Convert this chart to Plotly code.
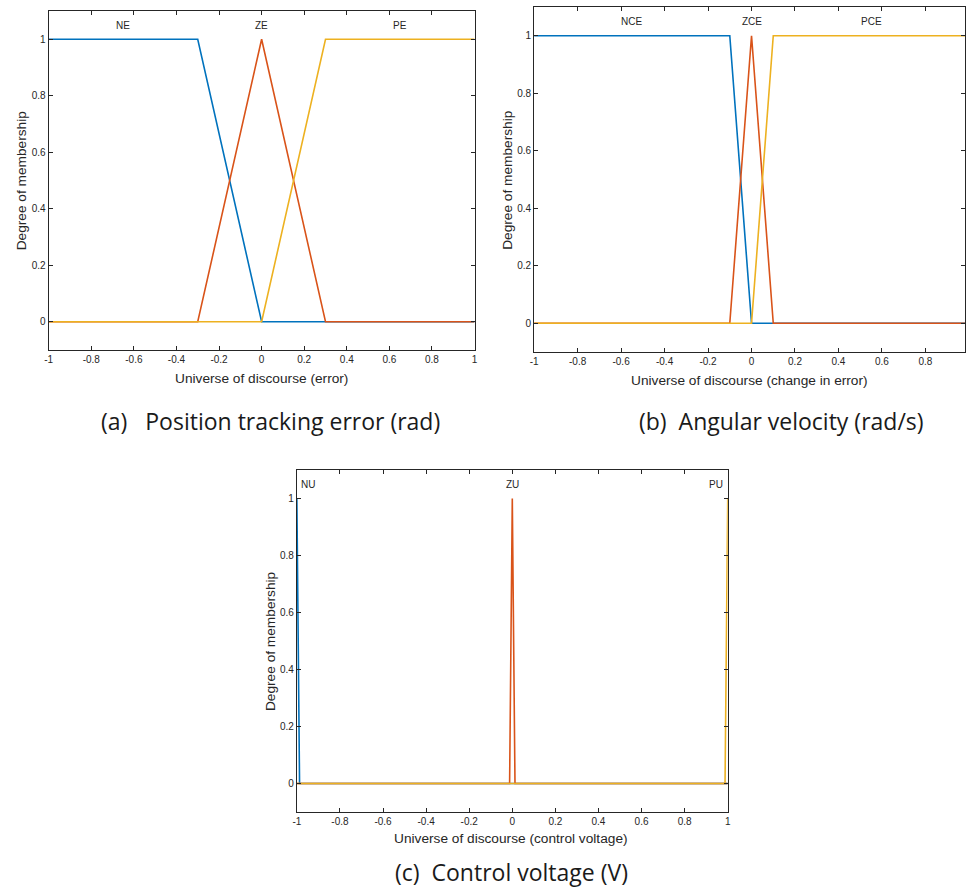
import plotly.graph_objects as go

W, H = 968, 895

# ---- data ----
# (a) position tracking error
a_NE_x = [-1, -0.3, 0, 1];        a_NE_y = [1, 1, 0, 0]
a_ZE_x = [-1, -0.3, 0, 0.3, 1];   a_ZE_y = [0, 0, 1, 0, 0]
a_PE_x = [-1, 0, 0.3, 1];         a_PE_y = [0, 0, 1, 1]
a_labels = ["NE", "ZE", "PE"];    a_label_x = [-0.65, 0, 0.65]

# (b) angular velocity
b_NCE_x = [-1, -0.1, 0, 1];        b_NCE_y = [1, 1, 0, 0]
b_ZCE_x = [-1, -0.1, 0, 0.1, 1];   b_ZCE_y = [0, 0, 1, 0, 0]
b_PCE_x = [-1, 0, 0.1, 1];         b_PCE_y = [0, 0, 1, 1]
b_labels = ["NCE", "ZCE", "PCE"];  b_label_x = [-0.55, 0, 0.55]

# (c) control voltage
c_NU_x = [-1, -0.9875, 1];               c_NU_y = [1, 0, 0]
c_ZU_x = [-1, -0.0125, 0, 0.0125, 1];    c_ZU_y = [0, 0, 1, 0, 0]
c_PU_x = [-1, 0.9875, 1];                c_PU_y = [0, 0, 1]
c_labels = ["NU", "ZU", "PU"];           c_label_x = [-0.95, 0, 0.945]

x_titles = ["Universe of discourse (error)",
            "Universe of discourse (change in error)",
            "Universe of discourse (control voltage)"]
captions = ["(a)   Position tracking error (rad)",
            "(b)  Angular velocity (rad/s)",
            "(c)  Control voltage (V)"]

tick_vals_x = [-1, -0.8, -0.6, -0.4, -0.2, 0, 0.2, 0.4, 0.6, 0.8, 1]
tick_text_x = ["-1", "-0.8", "-0.6", "-0.4", "-0.2", "0", "0.2", "0.4", "0.6", "0.8", "1"]
tick_vals_y = [0, 0.2, 0.4, 0.6, 0.8, 1]
tick_text_y = ["0", "0.2", "0.4", "0.6", "0.8", "1"]

colors = ["#0072BD", "#D95319", "#EDB120"]

# panel pixel boxes: left, right, top, bottom
boxes = [(45, 474, 11, 350), (534, 968, 7, 352), (295, 729, 470, 812)]
x_ranges = [[-1, 1], [-1, 0.982], [-1, 1]]
xtitle_pos = [(259.5, 378), (751, 380), (510.5, 838)]
cap_pos = [(268, 421), (783, 421), (511, 872)]

fig = go.Figure()

series = [
    [(a_NE_x, a_NE_y), (a_ZE_x, a_ZE_y), (a_PE_x, a_PE_y)],
    [(b_NCE_x, b_NCE_y), (b_ZCE_x, b_ZCE_y), (b_PCE_x, b_PCE_y)],
    [(c_NU_x, c_NU_y), (c_ZU_x, c_ZU_y), (c_PU_x, c_PU_y)],
]
label_sets = [(a_labels, a_label_x), (b_labels, b_label_x), (c_labels, c_label_x)]

FONT = "Liberation Sans, Arial, sans-serif"
tickfont = dict(family=FONT, size=10, color="#262626")
titlefont = dict(family=FONT, size=13.7, color="#262626")

annotations = []
for i, (panel, box) in enumerate(zip(series, boxes)):
    n = "" if i == 0 else str(i + 1)
    xa, ya = "x" + n, "y" + n
    for (xs, ys), col in zip(panel, colors):
        fig.add_trace(go.Scatter(x=xs, y=ys, mode="lines", xaxis=xa, yaxis=ya,
                                 line=dict(color=col, width=1.6), showlegend=False,
                                 hoverinfo="skip"))
    l, r, t, b = box
    dom_x = [l / W, min(r / W, 1.0)]
    dom_y = [1 - b / H, 1 - t / H]
    common = dict(showgrid=False, zeroline=False, showline=True, linecolor="#262626",
                  linewidth=1, mirror="ticks", ticks="inside", ticklen=4,
                  tickcolor="#262626", tickfont=tickfont)
    fig.update_layout(**{
        ("xaxis" + n): dict(domain=dom_x, range=x_ranges[i], anchor=ya,
                            tickvals=tick_vals_x, ticktext=tick_text_x, **common),
        ("yaxis" + n): dict(domain=dom_y, range=[-0.1, 1.1], anchor=xa,
                            tickvals=tick_vals_y, ticktext=tick_text_y, **common),
    })
    labs, lx = label_sets[i]
    for txt, xv in zip(labs, lx):
        annotations.append(dict(x=xv, y=1.05, xref=xa, yref=ya, text=txt, showarrow=False,
                                font=dict(family=FONT, size=10, color="#262626")))
    # x-axis title
    px, py = xtitle_pos[i]
    annotations.append(dict(x=px / W, y=1 - py / H, xref="paper", yref="paper",
                            text=x_titles[i], showarrow=False, font=titlefont,
                            xanchor="center", yanchor="middle"))
    # y-axis title
    annotations.append(dict(x=(l - 27) / W, y=1 - (t + b) / 2 / H, xref="paper", yref="paper",
                            text="Degree of membership", showarrow=False, font=titlefont,
                            textangle=-90, xanchor="center", yanchor="middle"))

for txt, (px, py) in zip(captions, cap_pos):
    annotations.append(dict(x=px / W, y=1 - py / H, xref="paper", yref="paper", text=txt,
                            showarrow=False, xanchor="center", yanchor="middle",
                            font=dict(family="Open Sans, sans-serif", size=23, color="#1a1a1a")))

fig.update_layout(width=W, height=H, margin=dict(l=0, r=0, t=0, b=0),
                  paper_bgcolor="white", plot_bgcolor="white",
                  annotations=annotations)

fig.write_html("out.html")
